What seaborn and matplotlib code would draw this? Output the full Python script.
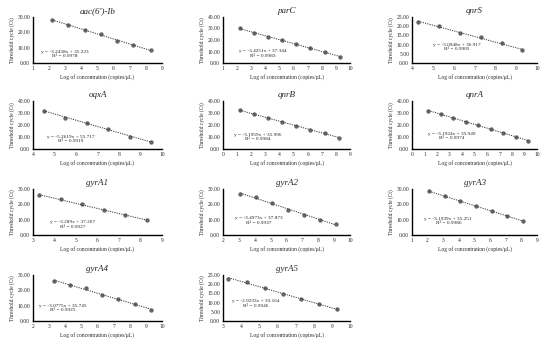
import matplotlib
matplotlib.use("Agg")
import matplotlib.pyplot as plt
import seaborn as sns
import numpy as np

# data (log copies/uL vs Ct)
genes = ["aac(6')-Ib", "parC", "qnrS", "oqxA", "qnrB", "qnrA",
         "gyrA1", "gyrA2", "gyrA3", "gyrA4", "gyrA5"]

x_aac = [2.2, 3.2, 4.2, 5.2, 6.2, 7.2, 8.3]
ct_aac = [28.0, 24.9, 21.5, 18.6, 14.6, 11.8, 8.2]
x_parc = [2.2, 3.2, 4.2, 5.2, 6.2, 7.2, 8.2, 9.3]
ct_parc = [30.0, 26.2, 22.9, 19.6, 16.3, 12.8, 9.4, 5.6]
x_qnrs = [4.3, 5.3, 6.3, 7.3, 8.3, 9.3]
ct_qnrs = [22.3, 20.0, 16.2, 14.0, 10.8, 6.8]
x_oqxa = [4.5, 5.5, 6.5, 7.5, 8.5, 9.5]
ct_oqxa = [32.0, 26.0, 21.5, 17.0, 10.3, 5.8]
x_qnrb = [1.2, 2.2, 3.2, 4.2, 5.2, 6.2, 7.2, 8.2]
ct_qnrb = [32.1, 29.0, 26.0, 22.5, 19.2, 16.2, 13.1, 9.3]
x_qnra = [1.3, 2.3, 3.3, 4.3, 5.3, 6.3, 7.3, 8.3, 9.3]
ct_qnra = [31.5, 29.3, 26.0, 22.8, 19.8, 16.5, 13.6, 10.2, 6.6]
x_gyra1 = [3.3, 4.3, 5.3, 6.3, 7.3, 8.3]
ct_gyra1 = [25.8, 23.4, 20.0, 16.0, 13.0, 9.6]
x_gyra2 = [3.1, 4.1, 5.1, 6.1, 7.1, 8.1, 9.1]
ct_gyra2 = [27.0, 24.6, 20.6, 16.6, 13.0, 10.0, 7.0]
x_gyra3 = [2.1, 3.1, 4.1, 5.1, 6.1, 7.1, 8.1]
ct_gyra3 = [28.4, 25.4, 22.0, 19.0, 15.5, 12.2, 9.2]
x_gyra4 = [3.3, 4.3, 5.3, 6.3, 7.3, 8.3, 9.3]
ct_gyra4 = [25.8, 23.8, 21.2, 17.0, 14.2, 11.0, 7.3]
x_gyra5 = [3.3, 4.3, 5.3, 6.3, 7.3, 8.3, 9.3]
ct_gyra5 = [23.0, 21.2, 18.2, 14.6, 11.9, 9.0, 6.4]

equations = ["y = -3.2438x + 35.223\nR² = 0.9978",
             "y = -3.4251x + 37.344\nR² = 0.9983",
             "y = -3.0948x + 36.917\nR² = 0.9905",
             "y = -5.2619x + 55.717\nR² = 0.9919",
             "y = -3.1959x + 35.996\nR² = 0.9984",
             "y = -3.1924x + 35.949\nR² = 0.9974",
             "y = -3.289x + 37.267\nR² = 0.9927",
             "y = -3.4973x + 37.873\nR² = 0.9937",
             "y = -3.1939x + 35.251\nR² = 0.9986",
             "y = -3.0775x + 35.745\nR² = 0.9925",
             "y = -2.9233x + 33.164\nR² = 0.9946"]

xs = [x_aac, x_parc, x_qnrs, x_oqxa, x_qnrb, x_qnra,
      x_gyra1, x_gyra2, x_gyra3, x_gyra4, x_gyra5]
cts = [ct_aac, ct_parc, ct_qnrs, ct_oqxa, ct_qnrb, ct_qnra,
       ct_gyra1, ct_gyra2, ct_gyra3, ct_gyra4, ct_gyra5]

xlims = [(1, 9), (1, 10), (4, 10), (4, 10), (0, 9), (0, 10),
         (3, 9), (2, 10), (1, 9), (2, 10), (3, 10)]
ylims = [(30, 10), (40, 10), (25, 5), (40, 10), (40, 10), (40, 10),
         (30, 10), (30, 10), (30, 10), (30, 10), (25, 5)]
# equation label position (axes fraction)
eq_pos = [(0.25, 0.20), (0.31, 0.21), (0.36, 0.35), (0.29, 0.21),
          (0.27, 0.25), (0.32, 0.27), (0.31, 0.23), (0.28, 0.32),
          (0.29, 0.30), (0.23, 0.28), (0.26, 0.38)]

sns.set_style("white")
plt.rcParams['font.family'] = ['Liberation Serif', 'DejaVu Serif']

fig = plt.figure(figsize=(5.5, 3.42), dpi=100)
W, H = 550.0, 342.0
col_left = [33, 223, 412]
col_w = [129, 127, 125]
row_top = [17, 101, 189, 275]
row_bot = [63, 149, 235, 321]

for i, gene in enumerate(genes):
    r, c = divmod(i, 3)
    ax = fig.add_axes([col_left[c] / W, 1 - row_bot[r] / H,
                       col_w[c] / W, (row_bot[r] - row_top[r]) / H])
    sns.regplot(x=np.array(xs[i]), y=np.array(cts[i]), ax=ax, ci=None,
                scatter_kws=dict(s=10, color='#404040', zorder=3, linewidths=0),
                line_kws=dict(color='#333333', lw=0.7, ls=(0, (1.2, 1.2))))
    ymax, ystep = ylims[i]
    ax.set_xlim(*xlims[i])
    ax.set_ylim(0, ymax)
    ax.set_xticks(range(xlims[i][0], xlims[i][1] + 1))
    ax.set_yticks(np.arange(0, ymax + 0.1, ystep))
    ax.yaxis.set_major_formatter(matplotlib.ticker.FormatStrFormatter('%.2f'))
    ax.tick_params(labelsize=4, length=0, pad=2)
    for s in ['top', 'right']:
        ax.spines[s].set_visible(False)
    for s in ['left', 'bottom']:
        ax.spines[s].set_color('black')
        ax.spines[s].set_linewidth(1.0)
    ax.set_title(gene, fontsize=6.5, style='italic', pad=3)
    ax.set_xlabel('Log of concentration (copies/μL)', fontsize=4, labelpad=2)
    ax.set_ylabel('Threshold cycle (Ct)', fontsize=4, labelpad=2)
    ax.text(eq_pos[i][0], eq_pos[i][1], equations[i], transform=ax.transAxes,
            fontsize=3.8, ha='center', va='center', multialignment='center')

fig.savefig('out.png', dpi=100)
